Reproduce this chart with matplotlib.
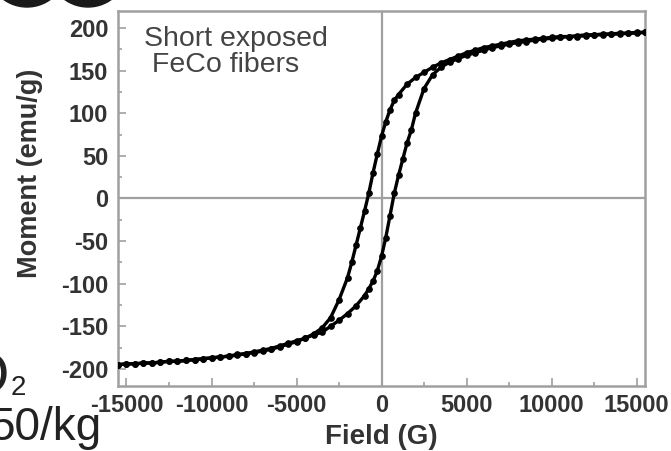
import matplotlib
matplotlib.use('Agg')
import matplotlib.pyplot as plt
from matplotlib.ticker import MultipleLocator
from matplotlib.patches import Ellipse

plt.rcParams['font.family'] = ['Liberation Sans', 'DejaVu Sans']
plt.rcParams['axes.unicode_minus'] = False

# Descending branch (field swept from +15.5 kG down to -15.5 kG)
field_down = [15500, 15000, 14500, 14000, 13500, 13000, 12500, 12000, 11500, 11000,
              10500, 10000, 9500, 9000, 8500, 8000, 7500, 7000, 6500, 6000,
              5500, 5000, 4500, 4000, 3500, 3000, 2500, 2000, 1500, 1000,
              750, 500, 250, 0, -250, -500, -750, -1000, -1250, -1500,
              -1750, -2000, -2500, -3000, -3500, -4000, -4500, -5000, -5500, -6000,
              -6500, -7000, -7500, -8000, -8500, -9000, -9500, -10000, -10500, -11000,
              -11500, -12000, -12500, -13000, -13500, -14000, -14500, -15000, -15500]
moment_down = [195, 195, 194, 194, 193, 193, 192, 192, 191, 190,
               190, 189, 188, 187, 186, 185, 183, 181, 179, 177,
               174, 171, 167, 163, 159, 154, 148, 142, 134, 122,
               115, 104, 90, 73, 52, 30, 6, -15, -35, -55,
               -75, -93, -119, -140, -152, -159, -164, -167, -170, -173,
               -176, -178, -180, -182, -183, -185, -186, -187, -188, -189,
               -190, -191, -191, -192, -193, -193, -194, -194, -195]

# Ascending branch (field swept from -15.5 kG up to +15.5 kG)
field_up = [-15500, -15000, -14500, -14000, -13500, -13000, -12500, -12000, -11500, -11000,
            -10500, -10000, -9500, -9000, -8500, -8000, -7500, -7000, -6500, -6000,
            -5500, -5000, -4500, -4000, -3500, -3000, -2500, -2000, -1500, -1000,
            -750, -500, -250, 0, 250, 500, 750, 1000, 1250, 1500,
            1750, 2000, 2500, 3000, 3500, 4000, 4500, 5000, 5500, 6000,
            6500, 7000, 7500, 8000, 8500, 9000, 9500, 10000, 10500, 11000,
            11500, 12000, 12500, 13000, 13500, 14000, 14500, 15000, 15500]
moment_up = [-195, -194, -194, -193, -193, -192, -191, -191, -190, -189,
             -188, -187, -186, -185, -184, -182, -181, -179, -177, -174,
             -171, -168, -164, -160, -157, -150, -143, -135, -126, -114,
             -106, -97, -85, -68, -46, -20, 6, 27, 46, 65,
             80, 100, 129, 145, 154, 160, 164, 168, 171, 174,
             177, 179, 181, 183, 184, 186, 187, 188, 189, 190,
             190, 191, 192, 192, 193, 193, 194, 194, 195]

grey = '#a0a0a0'
text_col = '#333333'

fig = plt.figure(figsize=(6.71, 4.51), dpi=100)
ax = fig.add_axes([118 / 671, 1 - 386 / 451, 527 / 671, 375 / 451])

ax.axhline(0, color=grey, lw=1.6, zorder=1)
ax.axvline(0, color=grey, lw=1.6, zorder=1)

for h, m in [(field_down, moment_down), (field_up, moment_up)]:
    ax.plot(h, m, '-o', color='black', lw=2.4, ms=3.8, zorder=3)

ax.set_xlim(-15500, 15500)
ax.set_ylim(-220, 220)
ax.set_xticks(range(-15000, 15001, 5000))
ax.set_yticks(range(-200, 201, 50))
ax.xaxis.set_minor_locator(MultipleLocator(2500))
ax.yaxis.set_minor_locator(MultipleLocator(25))

for s in ax.spines.values():
    s.set_color(grey)
    s.set_linewidth(1.8)

ax.tick_params(which='both', direction='in', color=grey, width=1.2,
               labelsize=17, labelcolor=text_col, top=False, right=False)
ax.tick_params(which='major', length=6)
ax.tick_params(which='minor', length=3)
ax.tick_params(axis='y', pad=7)
ax.tick_params(axis='x', pad=6)
for lab in ax.get_xticklabels() + ax.get_yticklabels():
    lab.set_fontweight('bold')

ax.text(0.05, 0.96, 'Short exposed\n FeCo fibers', transform=ax.transAxes,
        fontsize=20.5, color='#444444', ha='left', va='top', linespacing=1.0)

fig.text(381 / 671, 1 - 437 / 451, 'Field (G)', fontsize=20, fontweight='bold',
         color=text_col, ha='center', va='center')
fig.text(30 / 671, 1 - 173 / 451, 'Moment (emu/g)', fontsize=19.5, fontweight='bold',
         color=text_col, ha='center', va='center', rotation=90)

# fragments of the neighbouring panel cut off at the left edge
fig.text(9 / 671, 1 - 393 / 451, 'O', fontsize=42, color='#222222', ha='right', va='baseline')
fig.text(11 / 671, 1 - 395 / 451, '2', fontsize=20, color='#222222', ha='left', va='baseline')
fig.text(101 / 671, 1 - 440 / 451, '50/kg', fontsize=33, color='#222222', ha='right', va='baseline')
for cx in (27, 88):
    fig.add_artist(Ellipse((cx / 671, 1 + 33 / 451), 80 / 671, 80 / 451,
                           transform=fig.transFigure, color='#1a1a1a', clip_on=False))

fig.savefig('out.png', dpi=100)
